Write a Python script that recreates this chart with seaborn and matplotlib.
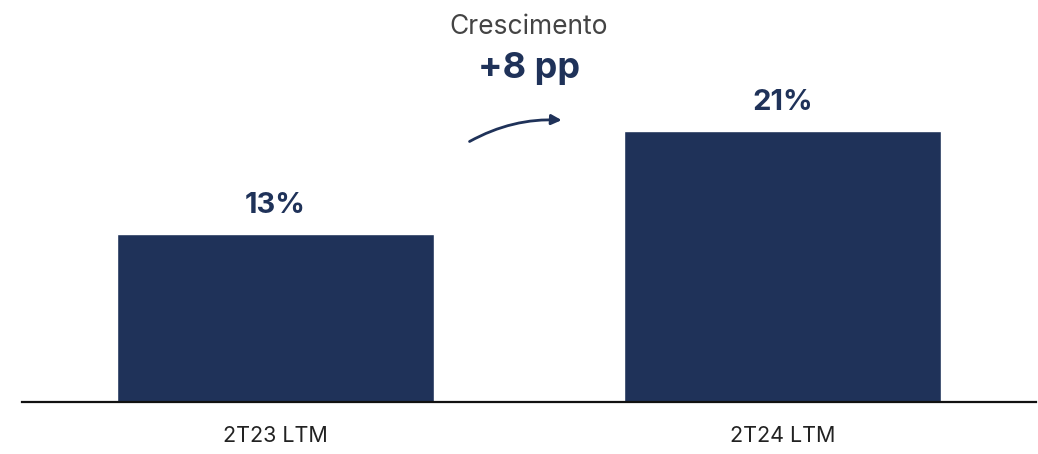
import pandas as pd
import matplotlib.pyplot as plt
import seaborn as sns

periods = ['2T23 LTM', '2T24 LTM']
values = [13, 21]
labels = ['13%', '21%']
growth_title = 'Crescimento'
growth_text = '+8 pp'

navy = '#1f3259'

sns.set_style('white')
plt.rcParams['font.family'] = ['Inter', 'DejaVu Sans']

df = pd.DataFrame({'period': periods, 'value': values})

fig = plt.figure(figsize=(10.38, 4.54), dpi=100)
ax = fig.add_axes([0.0212, 0.1145, 0.9768, 0.852])

sns.barplot(data=df, x='period', y='value', color=navy, saturation=1, width=0.625, ax=ax)

ax.bar_label(ax.containers[0], labels=labels, padding=11, fontsize=21,
             fontweight='bold', color=navy)

ax.set_xlim(-0.5, 1.5)
ax.set_ylim(0, 30)
ax.set_xlabel('')
ax.set_ylabel('')
ax.set_yticks([])
ax.tick_params(axis='x', length=0, pad=17, labelsize=15.5, labelcolor='#222222')
for s in ['top', 'left', 'right']:
    ax.spines[s].set_visible(False)
ax.spines['bottom'].set_color('#111111')
ax.spines['bottom'].set_linewidth(1.6)

ax.text(0.5, 29.1, growth_title, ha='center', va='center', fontsize=19, color='#444444')
ax.text(0.5, 25.9, growth_text, ha='center', va='center', fontsize=26,
        fontweight='bold', color=navy)
ax.annotate('', xy=(0.57, 21.85), xytext=(0.378, 20.1),
            arrowprops=dict(arrowstyle='-|>', color=navy, lw=2,
                            connectionstyle='arc3,rad=-0.15', mutation_scale=15))

fig.savefig('out.png', dpi=100)
